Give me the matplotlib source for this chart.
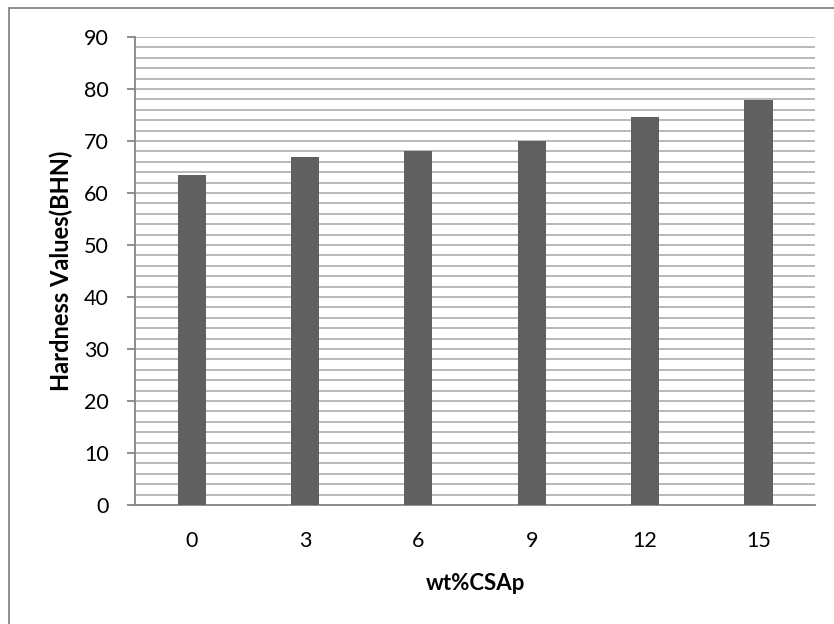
import matplotlib.pyplot as plt
from matplotlib.patches import Rectangle
import numpy as np

categories = ['0', '3', '6', '9', '12', '15']
hardness = [63.5, 67.0, 68.0, 70.0, 74.6, 77.8]

plt.rcParams['font.family'] = ['Lato', 'DejaVu Sans']

fig = plt.figure(figsize=(8.34, 6.24), dpi=100)
ax = fig.add_axes([135 / 834, 1 - 505 / 624, 680 / 834, 468 / 624])

x = np.arange(len(categories))
ax.bar(x, hardness, width=0.25, color='#606060', zorder=3)

ax.set_xlim(-0.5, len(categories) - 0.5)
ax.set_ylim(0, 90)
ax.set_yticks(range(0, 91, 10))
ax.set_yticks(range(0, 91, 2), minor=True)
ax.set_xticks(x)
ax.set_xticklabels(categories)

ax.grid(True, axis='y', which='both', color='#b4b4b4', linewidth=1.3, zorder=0)
ax.set_axisbelow(True)

for s in ['top', 'right']:
    ax.spines[s].set_visible(False)
for s in ['left', 'bottom']:
    ax.spines[s].set_color('#868686')
    ax.spines[s].set_linewidth(1.3)

ax.tick_params(axis='y', which='major', length=6, width=1.3, color='#868686',
               labelsize=15.5, pad=13)
ax.tick_params(axis='y', which='minor', length=0)
ax.tick_params(axis='x', length=0, labelsize=15.5, pad=19)

ax.set_xlabel('wt%CSAp', fontsize=16, fontweight='bold', va='center')
ax.set_ylabel('Hardness Values(BHN)', fontsize=17, fontweight='bold', va='center')
ax.xaxis.set_label_coords(0.5, (505 - 583) / 468)
ax.yaxis.set_label_coords((61 - 135) / 680, 0.5)

# outer chart border
fig.patches.append(Rectangle((9 / 834, -0.1), 1.2, 1 - 8 / 624 + 0.1,
                             transform=fig.transFigure, fill=False,
                             edgecolor='#868686', linewidth=1.3))

fig.savefig('out.png', dpi=100)
